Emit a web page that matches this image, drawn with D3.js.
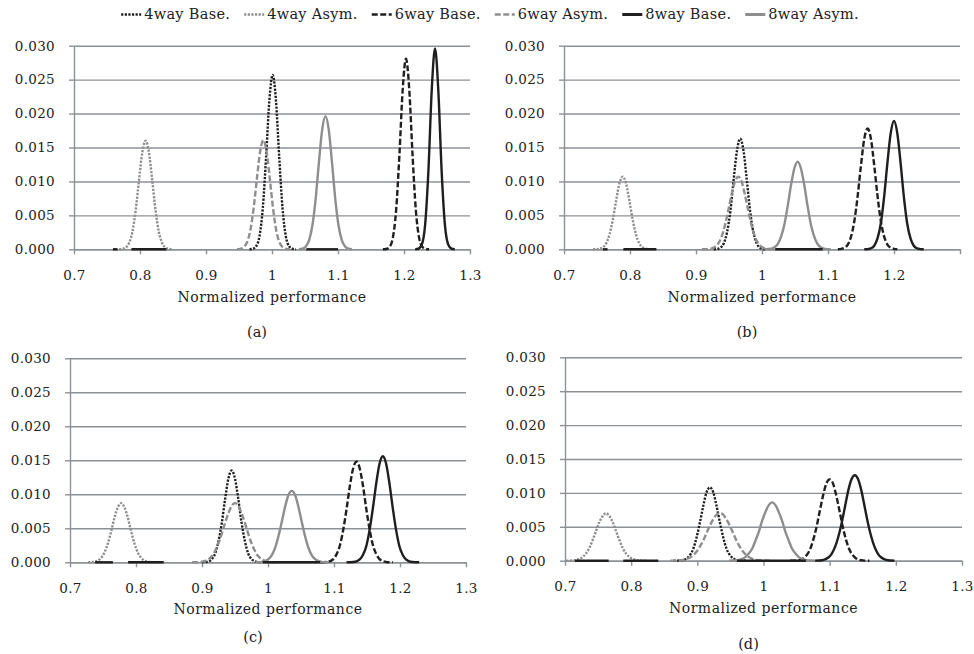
<!DOCTYPE html>
<html>
<head>
<meta charset="utf-8">
<script src="https://cdn.jsdelivr.net/npm/d3@7"></script>
<style>
  body { margin: 0; background: #fff; }
  svg { display: block; }
  text { font-family: 'DejaVu Serif', 'Liberation Serif', serif; fill: #222; }
</style>
</head>
<body>
<div id="chart"></div>
<script>
// Series, in legend order
const seriesNames = ['4way Base.', '4way Asym.', '6way Base.', '6way Asym.', '8way Base.', '8way Asym.']
const xTicks = [0.7, 0.8, 0.9, 1, 1.1, 1.2, 1.3]
const yTicks = [0, 0.005, 0.01, 0.015, 0.02, 0.025, 0.03]
const panelLabels = ['(a)', '(b)', '(c)', '(d)']
const axisTitle = 'Normalized performance'

// Every curve is sampled each 0.005 on the x axis, starting at its start value
const sampleStep = 0.005

// (a)
const startsA = [0.966, 0.7685, 1.168, 0.947, 1.217, 1.041]
const valuesA = [
  [0, .00008, .00045, .0019, .0060, .0135, .0219, .0257, .0219, .0135, .0060, .0019, .00045, .00008, 0],
  [0, .00006, .00027, .00094, .0026, .0058, .0102, .0143, .0160, .0143, .0102, .0058, .0026, .00094, .00027, .00006, 0],
  [0, .00005, .00033, .00165, .0057, .0138, .0235, .0281, .0235, .0138, .0057, .00165, .00033, .00005, 0],
  [0, .00007, .0003, .001, .0027, .0059, .0103, .0144, .0161, .0143, .0101, .0057, .0025, .0009, .00025, .00005, 0],
  [0, .00008, .0007, .0036, .0116, .0234, .0296, .0234, .0116, .0036, .0007, .00008, 0],
  [0, .00009, .00038, .00127, .0034, .0073, .0127, .0176, .0196, .0176, .0127, .0073, .0034, .00127, .00038, .00009, 0]
]
// stretches where a Base series lies visibly on the zero line
const zeroRunsA = [[0.759, 0.766], [0.787, 0.840], [1.052, 1.100]]

// (b)
const startsB = [0.927, 0.744, 1.115, 0.909, 1.155, 1.004]
const valuesB = [
  [0, .00005, .00023, .00086, .0025, .0056, .0102, .0145, .0163, .0145, .0102, .0056, .0025, .00086, .00023, .00005, 0],
  [0, .00002, .00008, .0003, .00089, .0022, .0044, .0072, .0097, .0107, .0097, .0072, .0044, .0022, .00089, .0003, .00008, .00002, 0],
  [0, .00006, .00022, .0007, .0019, .0042, .0079, .0124, .0163, .0178, .0163, .0124, .0079, .0042, .0019, .0007, .00022, .00006, 0],
  [0, .00001, .00004, .00013, .00037, .0009, .0019, .0036, .0058, .0081, .0100, .0107, .0100, .0081, .0058, .0036, .0019, .0009, .00037, .00013, .00004, .00001, 0],
  [0, .00003, .00014, .00052, .0016, .0038, .0077, .0127, .0171, .0189, .0171, .0127, .0077, .0038, .0016, .00052, .00014, .00003, 0],
  [0, .00002, .00009, .00029, .0008, .0019, .0037, .0064, .0095, .0119, .0129, .0119, .0095, .0064, .0037, .0019, .0008, .00029, .00009, .00002, 0]
]
const zeroRunsB = [[0.759, 0.766], [0.790, 0.840], [1.020, 1.092]]

// (c)
const startsC = [0.900, 0.7275, 1.079, 0.885, 1.119, 0.981]
const valuesC = [
  [0, .00004, .00014, .00048, .0013, .0031, .0058, .0093, .0123, .0135, .0123, .0093, .0058, .0031, .0013, .00048, .00014, .00004, 0],
  [0, .00003, .00009, .00027, .00068, .0015, .0028, .0046, .0066, .0081, .0087, .0081, .0066, .0046, .0028, .0015, .00068, .00027, .00009, .00003, 0],
  [0, .00001, .00005, .00016, .00046, .0012, .0025, .0048, .0078, .0112, .0138, .0148, .0138, .0112, .0078, .0048, .0025, .0012, .00046, .00016, .00005, .00001, 0],
  [0, .00001, .00003, .00009, .00021, .00046, .00091, .0017, .0028, .0042, .0058, .0072, .0083, .0087, .0083, .0072, .0058, .0042, .0028, .0017, .00091, .00046, .00021, .00009, .00003, .00001, 0],
  [0, .00001, .00004, .00014, .00042, .0011, .0024, .0048, .0080, .0116, .0145, .0156, .0145, .0116, .0080, .0048, .0024, .0011, .00042, .00014, .00004, .00001, 0],
  [0, .00002, .00007, .0002, .0005, .0011, .0022, .0039, .0060, .0082, .0099, .0105, .0099, .0082, .0060, .0039, .0022, .0011, .0005, .0002, .00007, .00002, 0]
]
const zeroRunsC = [[0.738, 0.765], [0.788, 0.842], [0.992, 1.079]]

// (d)
const startsD = [0.864, 0.702, 1.040, 0.859, 1.078, 0.948]
const valuesD = [
  [0, .00001, .00004, .00012, .00034, .00085, .0018, .0035, .0057, .0081, .0101, .0108, .0101, .0081, .0057, .0035, .0018, .00085, .00034, .00012, .00004, .00001, 0],
  [0, .00001, .00004, .00011, .00026, .00056, .0011, .0019, .0031, .0044, .0057, .0066, .0070, .0066, .0057, .0044, .0031, .0019, .0011, .00056, .00026, .00011, .00004, .00001, 0],
  [0, .00001, .00005, .00013, .00034, .00079, .0016, .0030, .0049, .0073, .0096, .0114, .0120, .0114, .0096, .0073, .0049, .0030, .0016, .00079, .00034, .00013, .00005, .00001, 0],
  [0, .00001, .00002, .00006, .00012, .00024, .00046, .00082, .00135, .0021, .0030, .0041, .0052, .0061, .0068, .0070, .0068, .0061, .0052, .0041, .0030, .0021, .00135, .00082, .00046, .00024, .00012, .00006, .00002, .00001, 0],
  [0, .00003, .00007, .0002, .00047, .0010, .0020, .0035, .0055, .0079, .0103, .0120, .0126, .0120, .0103, .0079, .0055, .0035, .0020, .0010, .00047, .0002, .00007, .00003, 0],
  [0, .00002, .00005, .00012, .00027, .00056, .0011, .0018, .0030, .0043, .0059, .0072, .0082, .0086, .0082, .0072, .0059, .0043, .0030, .0018, .0011, .00056, .00027, .00012, .00005, .00002, 0]
]
const zeroRunsD = [[0.715, 0.766], [0.788, 0.841], [0.960, 1.064]]

const panelData = [
  { starts: startsA, values: valuesA, zeroRuns: zeroRunsA },
  { starts: startsB, values: valuesB, zeroRuns: zeroRunsB },
  { starts: startsC, values: valuesC, zeroRuns: zeroRunsC },
  { starts: startsD, values: valuesD, zeroRuns: zeroRunsD }
]

// Line look of each series
const black = '#1f1f1f'
const gray = '#8e8e8e'
const seriesStyle = [
  { color: black, dash: '2.2,1.4' },
  { color: gray, dash: '2.2,1.4' },
  { color: black, dash: '6,2.5' },
  { color: gray, dash: '6,2.5' },
  { color: black, dash: null },
  { color: gray, dash: null }
]
const lineWidth = 2.4
const gridColor = '#8c9196'

// Where the four plot areas sit on the page
const layout = [
  { left: 74, top: 45.7, w: 396, h: 203.6, titleY: 302, captionY: 337, showLast: true },
  { left: 564, top: 45.7, w: 396, h: 203.6, titleY: 302, captionY: 337, showLast: false },
  { left: 70, top: 358.3, w: 396, h: 204, titleY: 614, captionY: 642, showLast: true },
  { left: 565, top: 357.3, w: 397, h: 203.4, titleY: 613, captionY: 649, showLast: true }
]

const svg = d3.select('#chart')
  .append('svg')
  .attr('width', 974)
  .attr('height', 654)

layout.forEach((p, pi) => {
  const x = d3.scaleLinear().domain([0.7, 1.3]).range([0, p.w])
  const y = d3.scaleLinear().domain([0, 0.03]).range([p.h, 0])

  const g = svg.append('g').attr('transform', `translate(${p.left},${p.top})`)

  // Horizontal grid lines
  g.append('g')
    .call(d3.axisLeft(y).tickValues(yTicks).tickSize(-p.w).tickFormat(''))
    .call(a => a.select('.domain').remove())
    .call(a => a.selectAll('.tick line').attr('stroke', gridColor).attr('stroke-width', 1.4))

  // Left axis with short outside ticks
  g.append('g')
    .call(d3.axisLeft(y).tickValues(yTicks).tickSize(5).tickPadding(14).tickSizeOuter(0)
      .tickFormat(d3.format('.3f')))
    .call(a => a.select('.domain').attr('stroke', gridColor).attr('stroke-width', 1.4))
    .call(a => a.selectAll('.tick line').attr('stroke', gridColor).attr('stroke-width', 1.4))
    .call(a => a.selectAll('.tick text')
      .attr('font-size', 13.5).attr('font-family', null).attr('letter-spacing', 0.3))

  // Bottom axis
  g.append('g')
    .attr('transform', `translate(0,${p.h})`)
    .call(d3.axisBottom(x).tickValues(xTicks).tickSize(5).tickPadding(16).tickSizeOuter(0)
      .tickFormat(d => (d === 1.3 && !p.showLast) ? '' : d3.format('')(d)))
    .call(a => a.select('.domain').attr('stroke', gridColor).attr('stroke-width', 1.4))
    .call(a => a.selectAll('.tick line').attr('stroke', gridColor).attr('stroke-width', 1.4))
    .call(a => a.selectAll('.tick text')
      .attr('font-size', 13.5).attr('font-family', null).attr('letter-spacing', 0.3))

  // Curves
  const line = d3.line()
    .x(d => x(d[0]))
    .y(d => y(d[1]))
    .curve(d3.curveMonotoneX)

  const data = panelData[pi]
  data.values.forEach((vals, si) => {
    const pts = vals.map((v, i) => [data.starts[si] + i * sampleStep, v])
    const st = seriesStyle[si]
    g.append('path')
      .datum(pts)
      .attr('fill', 'none')
      .attr('stroke', st.color)
      .attr('stroke-width', lineWidth)
      .attr('stroke-dasharray', st.dash)
      .attr('stroke-linejoin', 'round')
      .attr('d', line)
  })

  // Base series lying flat on the zero line
  data.zeroRuns.forEach(run => {
    g.append('path')
      .datum(run.map(v => [v, 0]))
      .attr('fill', 'none')
      .attr('stroke', black)
      .attr('stroke-width', lineWidth)
      .attr('d', d3.line().x(d => x(d[0])).y(d => y(d[1])))
  })

  // Axis title and panel caption
  svg.append('text')
    .attr('x', p.left + p.w / 2)
    .attr('y', p.titleY)
    .attr('text-anchor', 'middle')
    .attr('font-size', 14)
    .attr('letter-spacing', 0.5)
    .text(axisTitle)

  svg.append('text')
    .attr('x', p.left + p.w / 2 - 15)
    .attr('y', p.captionY)
    .attr('text-anchor', 'middle')
    .attr('font-size', 14.5)
    .text(panelLabels[pi])
})

// Legend across the top
const legend = svg.append('g')
let cursor = 0
seriesNames.forEach((name, i) => {
  const item = legend.append('g')
  const st = seriesStyle[i]
  item.append('line')
    .attr('x1', 0).attr('x2', 20)
    .attr('y1', -4.5).attr('y2', -4.5)
    .attr('stroke', st.color)
    .attr('stroke-width', st.dash ? 2.4 : 3)
    .attr('stroke-dasharray', st.dash)
  const t = item.append('text')
    .attr('x', 23)
    .attr('font-size', 14.5)
    .attr('letter-spacing', 0.3)
    .text(name)
  const w = 23 + t.node().getComputedTextLength()
  item.attr('transform', `translate(${cursor},0)`)
  cursor += w + 14
})
const total = cursor - 14
legend.attr('transform', `translate(${490 - total / 2},19)`)
</script>
</body>
</html>
